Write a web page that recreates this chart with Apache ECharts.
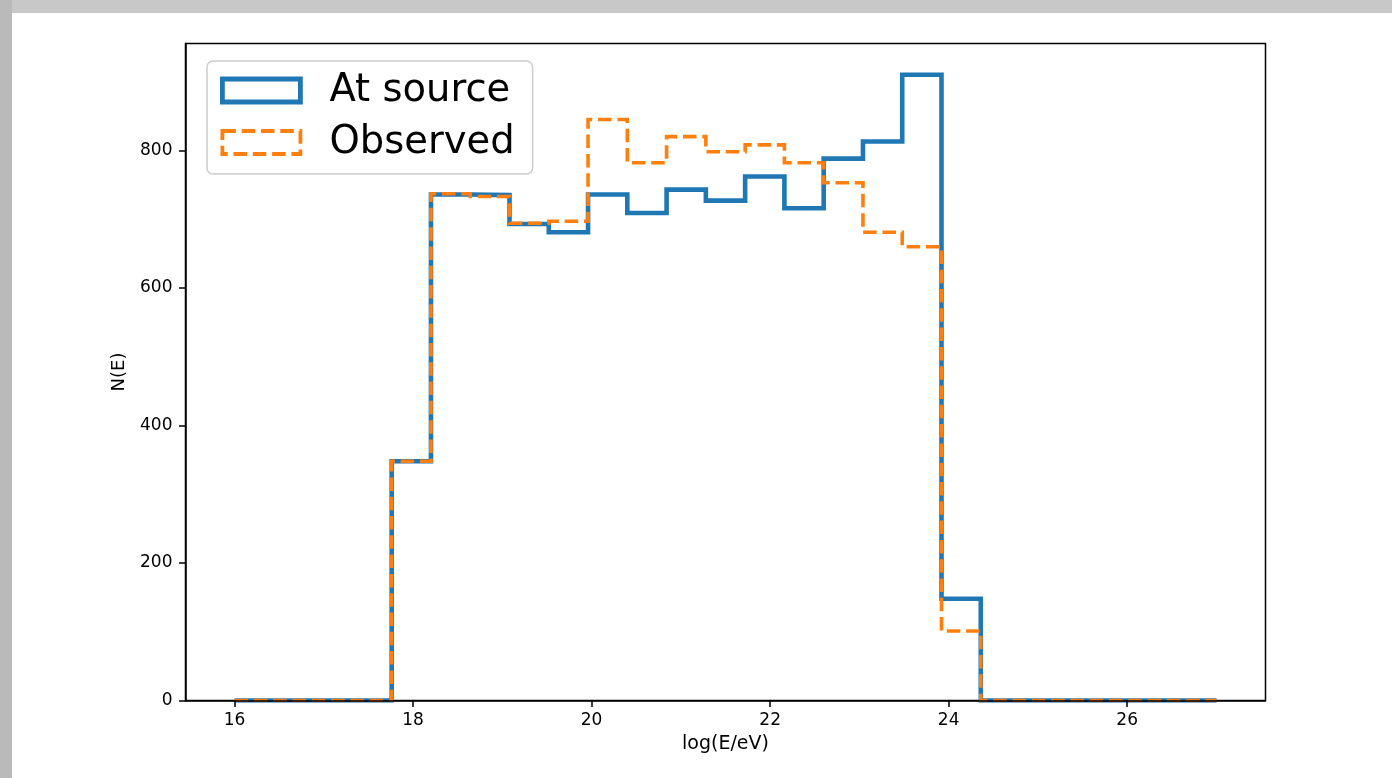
<!DOCTYPE html>
<html>
<head>
<meta charset="utf-8">
<script src="https://cdn.jsdelivr.net/npm/echarts@6/dist/echarts.min.js"></script>
<style>
  html, body { margin: 0; padding: 0; background: #ffffff; }
  #chart { width: 1392px; height: 778px; }
</style>
</head>
<body>
<div id="chart"></div>
<script>
// ---- data ----
const binEdges = [16, 16.44, 16.88, 17.32, 17.76, 18.2, 18.64, 19.08, 19.52, 19.96, 20.4, 20.84, 21.28,
                  21.72, 22.16, 22.6, 23.04, 23.48, 23.92, 24.36, 24.8, 25.24, 25.68, 26.12, 26.56, 27];
const atSource = [0, 0, 0, 0, 348, 736, 735, 693, 681, 736, 709, 743, 727, 762, 716, 788, 813, 910, 148, 0, 0, 0, 0, 0, 0];
const observed = [0, 0, 0, 0, 348, 737, 733, 694, 697, 845, 782, 820, 798, 808, 782, 753, 681, 660, 101, 0, 0, 0, 0, 0, 0];
const seriesNames = ['At source', 'Observed'];
const xTickValues = [16, 18, 20, 22, 24, 26];
const yTickValues = [0, 200, 400, 600, 800];
const xLabel = 'log(E/eV)';
const yLabel = 'N(E)';

// histogram outline (matplotlib histtype="step")
function stepOutline(edges, counts) {
  const pts = [[edges[0], 0]];
  for (let i = 0; i < counts.length; i++) {
    pts.push([edges[i], counts[i]]);
    pts.push([edges[i + 1], counts[i]]);
  }
  pts.push([edges[edges.length - 1], 0]);
  return pts;
}

const FONT = 'DejaVu Sans';
const chart = echarts.init(document.getElementById('chart'), null, { renderer: 'canvas' });

const xMin = 15.45, xMax = 27.55;
const yMax = 955.5;

chart.setOption({
  animation: false,
  backgroundColor: '#ffffff',
  graphic: [
    { type: 'rect', silent: true, z: 100, shape: { x: 0, y: 0, width: 1392, height: 13 }, style: { fill: '#c8c8c8' } },
    { type: 'rect', silent: true, z: 100, shape: { x: 0, y: 0, width: 12, height: 778 }, style: { fill: '#bababa' } }
  ],
  grid: {
    left: 185.5, top: 43.5, right: 126.5, bottom: 77.5,
    show: true, borderColor: '#000000', borderWidth: 1.5, backgroundColor: 'rgba(0,0,0,0)'
  },
  legend: {
    orient: 'vertical',
    left: 207, top: 61,
    padding: [10, 18, 12, 13],
    itemGap: 13,
    itemWidth: 78, itemHeight: 23,
    backgroundColor: 'rgba(255,255,255,0.8)',
    borderColor: '#cccccc', borderWidth: 1.5, borderRadius: 6,
    selectedMode: false,
    textStyle: { fontFamily: FONT, fontSize: 38.5, color: '#000000', padding: [0, 0, 0, 24] },
    data: [
      { name: seriesNames[0], icon: 'rect',
        itemStyle: { color: 'rgba(0,0,0,0)', borderColor: '#1f77b4', borderWidth: 4.8, borderJoin: 'miter' } },
      { name: seriesNames[1], icon: 'rect',
        itemStyle: { color: 'rgba(0,0,0,0)', borderColor: '#ff7f0e', borderWidth: 3.8, borderType: [13.5, 5.8], borderJoin: 'miter' } }
    ]
  },
  xAxis: {
    type: 'value', min: xMin, max: xMax, z: 5,
    name: xLabel, nameLocation: 'middle', nameGap: 34,
    nameTextStyle: { fontFamily: FONT, fontSize: 19, color: '#000000' },
    axisLine: { show: true, onZero: false, lineStyle: { color: '#000000', width: 1.5 } },
    axisTick: { show: true, inside: false, length: 6.5, lineStyle: { color: '#000000', width: 1.5 }, customValues: xTickValues },
    axisLabel: { customValues: xTickValues, fontFamily: FONT, fontSize: 17, color: '#000000', margin: 12 },
    splitLine: { show: false }
  },
  yAxis: {
    type: 'value', min: 0, max: yMax, z: 5,
    name: yLabel, nameLocation: 'middle', nameGap: 57, nameRotate: 90,
    nameTextStyle: { fontFamily: FONT, fontSize: 18, color: '#000000' },
    axisLine: { show: true, onZero: false, lineStyle: { color: '#000000', width: 1.5 } },
    axisTick: { show: true, inside: false, length: 6.5, lineStyle: { color: '#000000', width: 1.5 }, customValues: yTickValues },
    axisLabel: { customValues: yTickValues, fontFamily: FONT, fontSize: 17, color: '#000000', margin: 13 },
    splitLine: { show: false }
  },
  series: [
    {
      name: seriesNames[0], type: 'line', data: stepOutline(binEdges, atSource),
      symbol: 'none', showSymbol: false, z: 2,
      itemStyle: { color: '#1f77b4' },
      lineStyle: { color: '#1f77b4', width: 4.6, join: 'miter', cap: 'butt' },
      emphasis: { disabled: true }
    },
    {
      name: seriesNames[1], type: 'line', data: stepOutline(binEdges, observed),
      symbol: 'none', showSymbol: false, z: 3,
      itemStyle: { color: '#ff7f0e' },
      lineStyle: { color: '#ff7f0e', width: 3.6, type: [13.5, 5.8], join: 'miter', cap: 'butt' },
      emphasis: { disabled: true }
    }
  ]
});
</script>
</body>
</html>
